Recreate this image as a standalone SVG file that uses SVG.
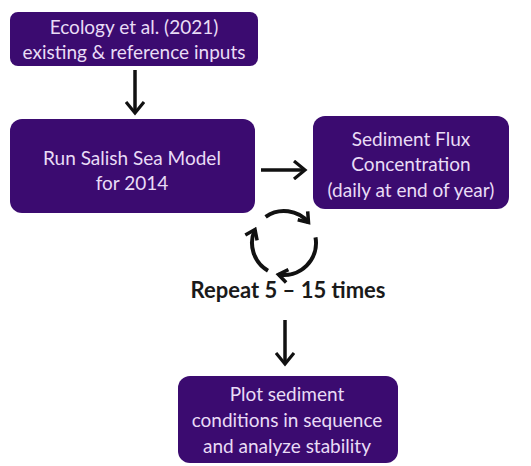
<svg xmlns="http://www.w3.org/2000/svg" width="531" height="466" viewBox="0 0 531 466">
<defs>
<style>
.box{fill:#3b0b70;}
.t{font-family:Lato,"Open Sans","Liberation Sans",sans-serif;font-size:19px;fill:#e9dcf6;text-anchor:middle;}
.c{fill:none;stroke:#111;stroke-width:3.5;}
.cy{fill:none;stroke:#111;stroke-width:4;}
.lbl{font-family:Lato,"Open Sans","Liberation Sans",sans-serif;font-size:22px;font-weight:bold;fill:#1a1a1a;text-anchor:middle;}
</style>
<marker id="ah" markerWidth="14" markerHeight="16" refX="11" refY="8" orient="auto" markerUnits="userSpaceOnUse" viewBox="0 0 14 16">
<path d="M2,1.5 L11,8 L2,14.5" fill="none" stroke="#111" stroke-width="3.5"/>
</marker>
<marker id="ah2" markerWidth="16" markerHeight="20" refX="13" refY="10" orient="auto" markerUnits="userSpaceOnUse" viewBox="0 0 16 20">
<path d="M2,1 L13,10 L2,19" fill="none" stroke="#111" stroke-width="3.2"/>
</marker>
</defs>
<rect width="531" height="466" fill="#fff"/>
<g id="connectors">
<line class="c" x1="135" y1="70" x2="135" y2="113" marker-end="url(#ah2)"/>
<line class="c" x1="261" y1="170" x2="305" y2="170" marker-end="url(#ah2)"/>
<line class="c" x1="285" y1="320" x2="285" y2="364" marker-end="url(#ah2)"/>
<path class="cy" d="M265.6,216.8 A32,32 0 0 1 308.5,222.4" marker-end="url(#ah)"/>
<path class="cy" d="M315.5,237.4 A32,32 0 0 1 278.4,274.5" marker-end="url(#ah)"/>
<path class="cy" d="M268,270.7 A32,32 0 0 1 255,229.5" marker-end="url(#ah)"/>
</g>
<g id="n1">
<rect class="box" x="10" y="12" width="248" height="54" rx="8"/>
<text class="t" x="134" y="34">Ecology et al. (2021)</text>
<text class="t" x="134" y="59">existing &amp; reference inputs</text>
</g>
<g id="n2">
<rect class="box" x="10" y="119" width="245" height="94" rx="12"/>
<text class="t" x="132" y="165">Run Salish Sea Model</text>
<text class="t" x="132" y="190">for 2014</text>
</g>
<g id="n3">
<rect class="box" x="313" y="116" width="196" height="93" rx="12"/>
<text class="t" x="411" y="146">Sediment Flux</text>
<text class="t" x="411" y="171">Concentration</text>
<text class="t" x="411" y="197">(daily at end of year)</text>
</g>
<g id="n4">
<rect class="box" x="178" y="376" width="220" height="87" rx="12"/>
<text class="t" x="287" y="401">Plot sediment</text>
<text class="t" x="287" y="427">conditions in sequence</text>
<text class="t" x="287" y="453">and analyze stability</text>
</g>
<g id="label">
<text class="lbl" x="288" y="298">Repeat 5 – 15 times</text>
</g>
</svg>
